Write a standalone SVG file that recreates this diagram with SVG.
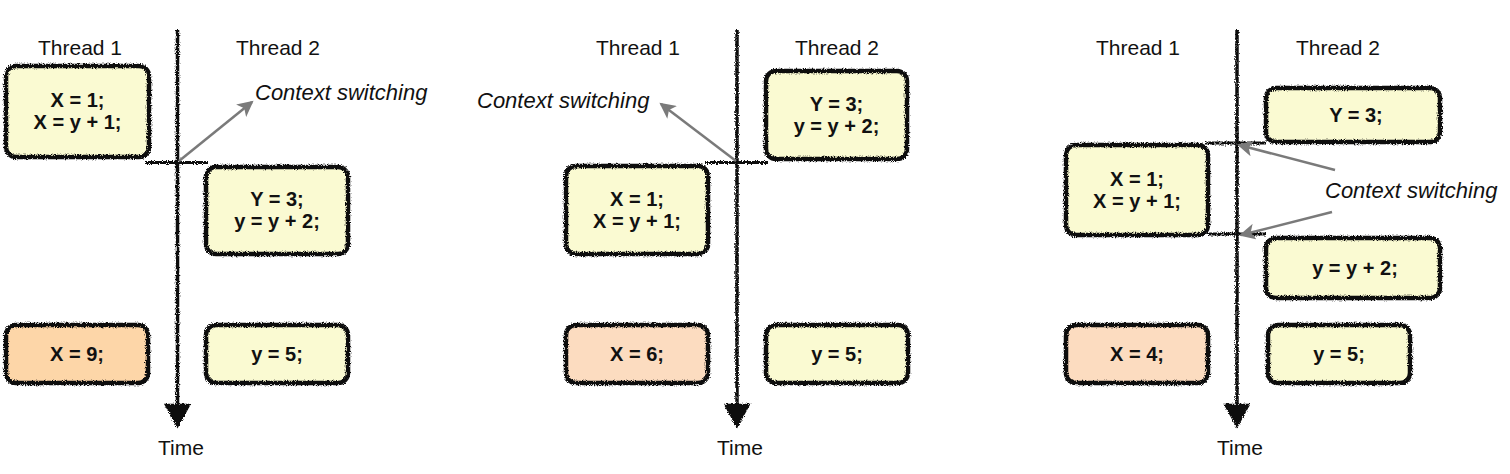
<svg xmlns="http://www.w3.org/2000/svg" width="1510" height="474" viewBox="0 0 1510 474">
<style>
.lbl{font-family:"Liberation Sans",Arial,sans-serif;font-size:21px;fill:#111;text-anchor:middle}
.cs{font-family:"Liberation Sans",Arial,sans-serif;font-size:22px;font-style:italic;fill:#111}
.code{font-family:"Liberation Sans",Arial,sans-serif;font-size:20px;font-weight:bold;fill:#111;text-anchor:middle}
.yel{fill:#fafad2}
.org1{fill:#fdd6a8}
.org2{fill:#fcdcc0}
.edge{fill:none;stroke:#111;stroke-width:4.5;filter:url(#rough)}
.axis{stroke:#111;stroke-width:3.5;fill:none;filter:url(#rough)}
.head{stroke:#111;stroke-width:2.5;fill:#111;filter:url(#rough)}
.tick{stroke:#111;stroke-width:2.8;fill:none;filter:url(#rough)}
.cswitch{stroke:#7a7a7a;stroke-width:2.5;fill:none;marker-end:url(#gh)}
</style>
<defs>
<filter id="rough" filterUnits="userSpaceOnUse" x="0" y="0" width="1510" height="474">
<feTurbulence type="fractalNoise" baseFrequency="0.9" numOctaves="2" seed="4" result="n"/>
<feDisplacementMap in="SourceGraphic" in2="n" scale="4" xChannelSelector="R" yChannelSelector="G"/>
</filter>
<marker id="gh" markerUnits="userSpaceOnUse" markerWidth="18" markerHeight="16" refX="14" refY="8" orient="auto">
<path d="M0,0 L16,8 L0,16 L4,8 Z" fill="#7a7a7a"/>
</marker>
</defs>

<!-- Panel 1 -->
<text class="lbl" x="80" y="55">Thread 1</text>
<text class="lbl" x="278" y="55">Thread 2</text>
<text class="lbl" x="181" y="455">Time</text>
<text class="cs" x="255" y="100">Context switching</text>

<!-- Panel 2 -->
<text class="lbl" x="638" y="55">Thread 1</text>
<text class="lbl" x="837" y="55">Thread 2</text>
<text class="lbl" x="740" y="455">Time</text>
<text class="cs" x="477" y="108">Context switching</text>

<!-- Panel 3 -->
<text class="lbl" x="1138" y="55">Thread 1</text>
<text class="lbl" x="1338" y="55">Thread 2</text>
<text class="lbl" x="1240" y="455">Time</text>
<text class="cs" x="1325" y="198">Context switching</text>

<g id="connectors">
<line class="axis" x1="177.5" y1="30" x2="177.5" y2="408"/>
<polygon class="head" points="166,405 189,405 177.5,426"/>
<line class="tick" x1="145" y1="162.5" x2="208" y2="162.5"/>
<line class="cswitch" x1="179" y1="161" x2="252" y2="102"/>

<line class="axis" x1="737" y1="30" x2="737" y2="408"/>
<polygon class="head" points="725.5,405 748.5,405 737,426"/>
<line class="tick" x1="705" y1="162.5" x2="768" y2="162.5"/>
<line class="cswitch" x1="736" y1="161" x2="661" y2="104"/>

<line class="axis" x1="1237" y1="30" x2="1237" y2="408"/>
<polygon class="head" points="1225.5,405 1248.5,405 1237,426"/>
<line class="tick" x1="1205" y1="143" x2="1266" y2="143"/>
<line class="tick" x1="1208" y1="234" x2="1266" y2="234"/>
<line class="cswitch" x1="1335" y1="170" x2="1239" y2="145"/>
<line class="cswitch" x1="1332" y1="212" x2="1241" y2="235"/>
</g>

<g id="p1-t1-a">
<rect class="yel" x="6" y="66" width="143" height="91" rx="10"/>
<rect class="edge" x="6" y="66" width="143" height="91" rx="10"/>
<text class="code" x="77.5" y="107">X = 1;</text>
<text class="code" x="77.5" y="129">X = y + 1;</text>
</g>
<g id="p1-t2-a">
<rect class="yel" x="206" y="167" width="142" height="87" rx="10"/>
<rect class="edge" x="206" y="167" width="142" height="87" rx="10"/>
<text class="code" x="277" y="206">Y = 3;</text>
<text class="code" x="277" y="228">y = y + 2;</text>
</g>
<g id="p1-t1-res">
<rect class="org1" x="6" y="325" width="142" height="58" rx="10"/>
<rect class="edge" x="6" y="325" width="142" height="58" rx="10"/>
<text class="code" x="77" y="361">X = 9;</text>
</g>
<g id="p1-t2-res">
<rect class="yel" x="206" y="325" width="142" height="58" rx="10"/>
<rect class="edge" x="206" y="325" width="142" height="58" rx="10"/>
<text class="code" x="277" y="361">y = 5;</text>
</g>

<g id="p2-t2-a">
<rect class="yel" x="766" y="71" width="141" height="88" rx="10"/>
<rect class="edge" x="766" y="71" width="141" height="88" rx="10"/>
<text class="code" x="836.5" y="111">Y = 3;</text>
<text class="code" x="836.5" y="133">y = y + 2;</text>
</g>
<g id="p2-t1-a">
<rect class="yel" x="566" y="166" width="142" height="88" rx="10"/>
<rect class="edge" x="566" y="166" width="142" height="88" rx="10"/>
<text class="code" x="637" y="206">X = 1;</text>
<text class="code" x="637" y="228">X = y + 1;</text>
</g>
<g id="p2-t1-res">
<rect class="org2" x="566" y="325" width="142" height="58" rx="10"/>
<rect class="edge" x="566" y="325" width="142" height="58" rx="10"/>
<text class="code" x="637" y="361">X = 6;</text>
</g>
<g id="p2-t2-res">
<rect class="yel" x="766" y="325" width="142" height="58" rx="10"/>
<rect class="edge" x="766" y="325" width="142" height="58" rx="10"/>
<text class="code" x="837" y="361">y = 5;</text>
</g>

<g id="p3-t2-a">
<rect class="yel" x="1266" y="88" width="174" height="54" rx="10"/>
<rect class="edge" x="1266" y="88" width="174" height="54" rx="10"/>
<text class="code" x="1356" y="122">Y = 3;</text>
</g>
<g id="p3-t1-a">
<rect class="yel" x="1066" y="145" width="142" height="90" rx="10"/>
<rect class="edge" x="1066" y="145" width="142" height="90" rx="10"/>
<text class="code" x="1137" y="186">X = 1;</text>
<text class="code" x="1137" y="208">X = y + 1;</text>
</g>
<g id="p3-t2-b">
<rect class="yel" x="1266" y="238" width="174" height="60" rx="10"/>
<rect class="edge" x="1266" y="238" width="174" height="60" rx="10"/>
<text class="code" x="1355" y="275">y = y + 2;</text>
</g>
<g id="p3-t1-res">
<rect class="org2" x="1066" y="325" width="142" height="58" rx="10"/>
<rect class="edge" x="1066" y="325" width="142" height="58" rx="10"/>
<text class="code" x="1137" y="361">X = 4;</text>
</g>
<g id="p3-t2-res">
<rect class="yel" x="1268" y="325" width="142" height="58" rx="10"/>
<rect class="edge" x="1268" y="325" width="142" height="58" rx="10"/>
<text class="code" x="1339" y="361">y = 5;</text>
</g>
</svg>
